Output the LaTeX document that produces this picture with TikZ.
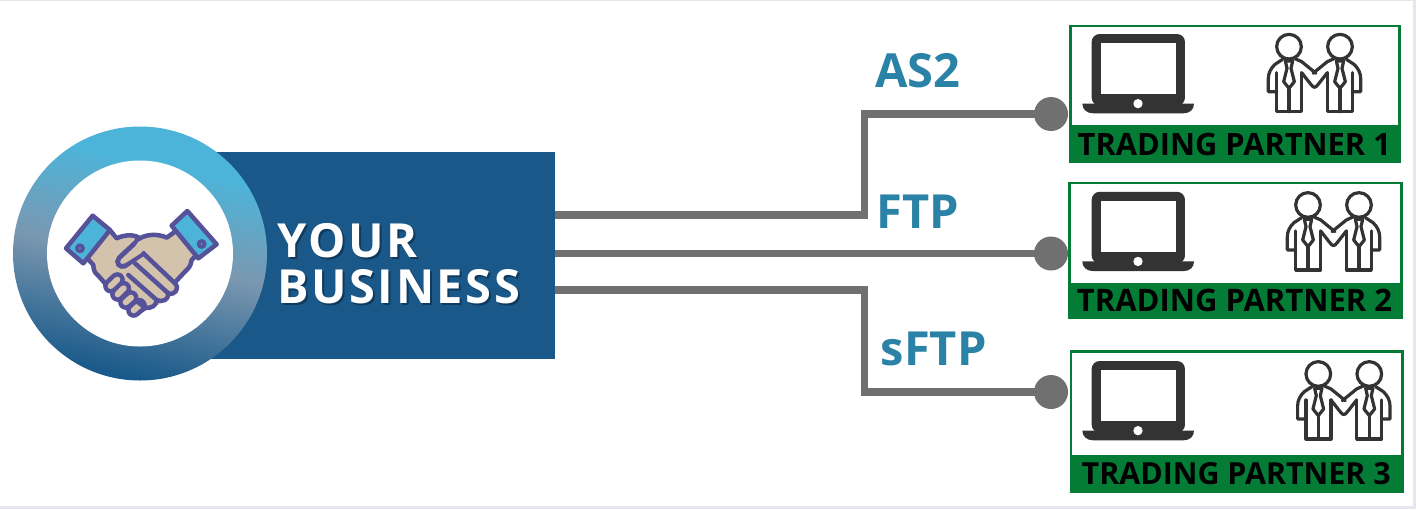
\documentclass[tikz,border=0pt]{standalone}
\usepackage{fontspec}
\setmainfont{Open Sans}
\usetikzlibrary{calc}
\definecolor{bizblue}{HTML}{195888}
\definecolor{bizshadow}{HTML}{0F3A5E}
\definecolor{wire}{HTML}{707070}
\definecolor{proto}{HTML}{2A83A6}
\definecolor{tpgreen}{HTML}{047C36}
\definecolor{icondark}{HTML}{333333}
\definecolor{ringtop}{HTML}{4DB4D9}
\definecolor{ringmid}{HTML}{7A97B0}
\definecolor{ringbot}{HTML}{1A5A8A}
\definecolor{hs}{HTML}{55529A}
\definecolor{tan}{HTML}{D4C3AC}
\definecolor{cuff}{HTML}{4DB4D9}
\definecolor{pagebg}{HTML}{E6E6EC}
\pgfdeclareverticalshading{ringshade}{100bp}{
  color(0bp)=(ringbot); color(26bp)=(ringbot); color(49bp)=(ringmid); color(68bp)=(ringtop); color(100bp)=(ringtop)}
\tikzset{
  wireline/.style={draw=wire,line width=7.5pt,line join=miter},
  enddot/.style={circle,fill=wire,minimum size=34pt,inner sep=0pt},
  protolabel/.style={text=proto,font=\fontsize{47}{47}\selectfont\bfseries,anchor=base west,inner sep=0pt},
  tpbox/.style={draw=tpgreen,line width=2.5pt,fill=white,inner sep=0pt,outer sep=0pt,anchor=north west},
  tpstrip/.style={fill=tpgreen,inner sep=0pt,outer sep=0pt,anchor=north west},
  tplabel/.style={text=black,font=\fontsize{31}{32}\selectfont\bfseries,inner sep=0pt,anchor=base},
  bizlabel/.style={text=white,font=\fontsize{47}{47}\selectfont\bfseries\addfontfeature{LetterSpace=5.5},inner sep=0pt,anchor=base west},
  hsline/.style={draw=hs,line width=4.5pt,line join=round,line cap=round},
  fingertip/.style={line width=15pt,draw=hs,line cap=round},
  fingerfill/.style={line width=6pt,draw=tan,line cap=round},
  personline/.style={draw=icondark,line width=3.2pt,line join=round,line cap=round}
}
\newcommand{\laptopicon}[2]{%
\begin{scope}[shift={(#1,#2)},x=0.3333pt,y=-0.3333pt]
  \fill[icondark,rounded corners=8pt] (185,57) rectangle (465,272);
  \fill[white] (213,84) rectangle (437,238);
  \fill[icondark] (157,266) -- (492,266) .. controls (492,283) and (480,295) .. (460,295) -- (190,295) .. controls (170,295) and (157,283) .. (157,266) -- cycle;
  \fill[white] (324,266) circle (14);
\end{scope}}
\newcommand{\oneperson}{%
  \draw[personline] (87,50) circle (37);
  \draw[personline] (68,88) -- (45,103) .. controls (32,115) and (25,130) .. (25,145) -- (25,185) -- (50,185);
  \draw[personline] (50,128) -- (50,245) -- (125,245) -- (125,128);
  \draw[personline] (87,178) -- (87,245);
  \draw[personline] (105,86) -- (125,95) -- (168,130);
  \draw[personline] (125,128) -- (150,160) .. controls (156,168) and (160,172) .. (163.5,172);
  \draw[personline] (76,93) -- (98,93) -- (93,115) -- (103,155) -- (87,175) -- (71,155) -- (81,115) -- cycle;
}
\newcommand{\partnericon}[2]{%
\begin{scope}[shift={(#1,#2)},x=0.3333pt,y=-0.3333pt]
  \oneperson
  \begin{scope}[shift={(327,0)},xscale=-1]
  \oneperson
  \end{scope}
\end{scope}}
\begin{document}
\begin{tikzpicture}[x=1pt,y=-1pt]
\useasboundingbox (0,0) rectangle (1416,509);
\fill[pagebg] (0,0) rectangle (1416,509);
\fill[white] (0,1) rectangle (1412.5,506);
% business block
\node[fill=bizblue,minimum width=355pt,minimum height=207pt,inner sep=0pt,anchor=north west] (biz) at (200,152) {};
\coordinate (o1) at (555,215);
\coordinate (o2) at (555,253.5);
\coordinate (o3) at (555,290);
% dots
\node[enddot] (d1) at (1051,114) {};
\node[enddot] (d2) at (1051,253.5) {};
\node[enddot] (d3) at (1051,392) {};
\draw[wireline] (o1) -- (864.5,215) -- (864.5,114) -- (d1.center);
\draw[wireline] (o2) -- (d2.center);
\draw[wireline] (o3) -- (864.5,290) -- (864.5,392) -- (d3.center);
% ring
\shade[shading=ringshade,shading angle=-12] (140,253.5) circle (127);
\node[circle,fill=white,minimum size=186pt,inner sep=0pt] (logo) at (140,253.5) {};
% handshake
\begin{scope}[shift={(60,205)},x=0.3333pt,y=-0.3333pt]
  \path[fill=tan] (152,78) -- (170,100) .. controls (195,88) and (225,88) .. (240,100) .. controls (265,85) and (300,88) .. (320,98) -- (345,80) -- (410,150) -- (395,165) -- (385,190) -- (345,232) -- (345,262) -- (320,285) -- (285,305) -- (255,312) -- (225,328) -- (190,295) -- (150,255) -- (135,235) -- (105,205) -- (100,180) -- (82,160) -- cycle;
  \draw[hsline] (152,78) -- (170,100) .. controls (195,88) and (225,88) .. (240,100);
  \draw[hsline] (240,100) .. controls (265,85) and (300,88) .. (320,98) -- (345,80);
  \draw[hsline] (410,150) -- (395,165) .. controls (392,185) and (385,190) .. (375,200) -- (345,232);
  \draw[hsline] (82,160) -- (100,180) .. controls (100,195) and (105,205) .. (115,212) -- (135,235) -- (190,295) -- (222,325) .. controls (235,325) and (245,315) .. (255,310);
  % left hand finger tips
  \draw[fingertip] (152,243) -- (172,224);
  \draw[fingertip] (173,268) -- (191,250);
  \draw[fingertip] (197,292) -- (213,278);
  \draw[fingertip] (221,316) -- (238,301);
  \draw[fingerfill] (152,243) -- (172,224);
  \draw[fingerfill] (173,268) -- (191,250);
  \draw[fingerfill] (197,292) -- (213,278);
  \draw[fingerfill] (221,316) -- (238,301);
  % right hand thumb and fingers
  \path[fill=tan] (240,150) -- (345,240) -- (325,268) -- (290,288) -- (265,298) -- (205,225) -- cycle;
  \draw[hsline,fill=tan] (240,100) -- (178,158) .. controls (165,172) and (178,190) .. (195,183) -- (250,145) -- (230,100) -- cycle;
  \draw[hsline] (240,100) -- (178,158) .. controls (165,172) and (178,190) .. (195,183) -- (250,145);
  \path[fill=tan] (235,110) -- (195,175) -- (250,140) -- (280,125) -- (260,100) -- cycle;
  \draw[hsline] (250,145) -- (345,235) .. controls (360,250) and (345,272) .. (325,265) -- (225,175);
  \draw[hsline] (325,265) .. controls (325,285) and (310,292) .. (290,285) -- (205,210);
  \draw[hsline] (290,285) .. controls (290,300) and (275,312) .. (255,308) -- (232,290);
  % cuffs
  \draw[hsline,fill=cuff] (98,32) -- (150,75) -- (70,175) -- (18,130) -- cycle;
  \draw[hsline,fill=cuff] (382,18) -- (470,118) -- (415,160) -- (335,62) -- cycle;
  \fill[hs] (60,130) circle (15);
  \fill[cuff!60!hs] (60,130) circle (4);
  \fill[hs] (425,117) circle (15);
  \fill[cuff!60!hs] (425,117) circle (4);
\end{scope}
\node[bizlabel,text=bizshadow] (yourshade) at (279,259) {YOUR};
\node[bizlabel,text=bizshadow] (businessshade) at (279,305) {BUSINESS};
\node[bizlabel] (your) at (277,257) {YOUR};
\node[bizlabel] (business) at (277,303) {BUSINESS};
% protocols
\node[protolabel] (as2) at (875,87) {AS2};
\node[protolabel] (ftp) at (876,228) {FTP};
\node[protolabel] (sftp) at (880.5,365) {sFTP};
% partner boxes
\node[tpbox,minimum width=329.2pt,minimum height=135.2pt] (b1) at (1070.5,26.2) {};
\node[tpstrip,minimum width=331.7pt,minimum height=37.7pt] (s1) at (1069.3,125) {};
\node[tplabel,font=\fontsize{30.8}{32}\selectfont\bfseries] (t1) at (1234.3,155) {TRADING PARTNER 1};
\laptopicon{1030}{15}
\partnericon{1260}{30}
\node[tpbox,minimum width=331.9pt,minimum height=134.8pt] (b2) at (1069.5,183.2) {};
\node[tpstrip,minimum width=334.4pt,minimum height=36.6pt] (s2) at (1068.3,282.7) {};
\node[tplabel] (t2) at (1234.5,311.7) {TRADING PARTNER 2};
\laptopicon{1030}{172.8}
\partnericon{1279}{188.3}
\node[tpbox,minimum width=331.5pt,minimum height=139.9pt] (b3) at (1071.2,351.5) {};
\node[tpstrip,minimum width=334pt,minimum height=37.4pt] (s3) at (1070,455.3) {};
\node[tplabel,font=\fontsize{30.4}{32}\selectfont\bfseries] (t3) at (1236.2,484.3) {TRADING PARTNER 3};
\laptopicon{1030}{342}
\partnericon{1289.3}{357.3}
\end{tikzpicture}
\end{document}
